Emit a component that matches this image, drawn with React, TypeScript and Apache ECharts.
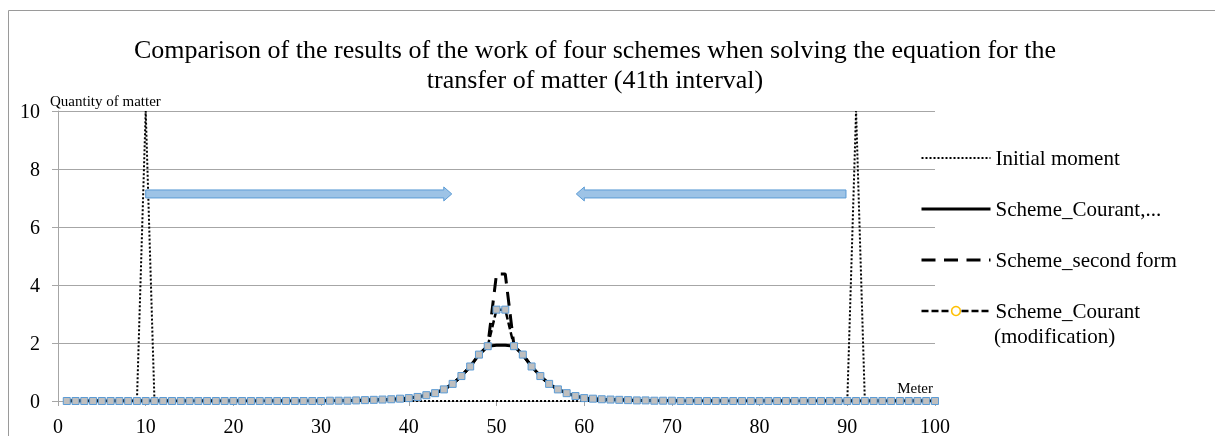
import React, { useEffect, useRef } from "react";
import * as echarts from "echarts";

const SERIF = "Liberation Serif";

const TITLE_LINES = [
  "Comparison of the results of the work of four schemes when solving the equation for the",
  "transfer of matter (41th interval)",
];
const X_NAME = "Meter";
const Y_NAME = "Quantity of matter";
const NAMES = [
  "Initial moment",
  "Scheme_Courant,...",
  "Scheme_second form",
  "Scheme_Courant (modification)",
];

// grid nodes (meters)
const X_NODES = Array.from({ length: 100 }, (_, i) => i + 1);

const INITIAL = [
  0, 0, 0, 0, 0, 0, 0, 0, 0, 10,
  0, 0, 0, 0, 0, 0, 0, 0, 0, 0,
  0, 0, 0, 0, 0, 0, 0, 0, 0, 0,
  0, 0, 0, 0, 0, 0, 0, 0, 0, 0,
  0, 0, 0, 0, 0, 0, 0, 0, 0, 0,
  0, 0, 0, 0, 0, 0, 0, 0, 0, 0,
  0, 0, 0, 0, 0, 0, 0, 0, 0, 0,
  0, 0, 0, 0, 0, 0, 0, 0, 0, 0,
  0, 0, 0, 0, 0, 0, 0, 0, 0, 0,
  10, 0, 0, 0, 0, 0, 0, 0, 0, 0,
];

const COURANT = [
  0, 0, 0, 0, 0, 0, 0, 0, 0, 0,
  0, 0, 0, 0, 0, 0, 0, 0, 0, 0,
  0, 0, 0, 0, 0, 0, 0, 0, 0, 0,
  0.01, 0.01, 0.01, 0.02, 0.03, 0.04, 0.05, 0.06, 0.08, 0.1,
  0.14, 0.2, 0.27, 0.4, 0.59, 0.86, 1.19, 1.6, 1.89, 1.92,
  1.92, 1.89, 1.6, 1.19, 0.86, 0.59, 0.4, 0.27, 0.17, 0.1,
  0.08, 0.06, 0.05, 0.04, 0.03, 0.02, 0.02, 0.01, 0.01, 0.01,
  0, 0, 0, 0, 0, 0, 0, 0, 0, 0,
  0, 0, 0, 0, 0, 0, 0, 0, 0, 0,
  0, 0, 0, 0, 0, 0, 0, 0, 0, 0,
];

const SECOND_FORM = [
  0, 0, 0, 0, 0, 0, 0, 0, 0, 0,
  0, 0, 0, 0, 0, 0, 0, 0, 0, 0,
  0, 0, 0, 0, 0, 0, 0, 0, 0, 0,
  0.01, 0.01, 0.01, 0.02, 0.03, 0.04, 0.05, 0.06, 0.08, 0.1,
  0.14, 0.2, 0.27, 0.4, 0.59, 0.86, 1.19, 1.6, 1.89, 4.38,
  4.38, 1.89, 1.6, 1.19, 0.86, 0.59, 0.4, 0.27, 0.17, 0.1,
  0.08, 0.06, 0.05, 0.04, 0.03, 0.02, 0.02, 0.01, 0.01, 0.01,
  0, 0, 0, 0, 0, 0, 0, 0, 0, 0,
  0, 0, 0, 0, 0, 0, 0, 0, 0, 0,
  0, 0, 0, 0, 0, 0, 0, 0, 0, 0,
];

const MODIFICATION = [
  0, 0, 0, 0, 0, 0, 0, 0, 0, 0,
  0, 0, 0, 0, 0, 0, 0, 0, 0, 0,
  0, 0, 0, 0, 0, 0, 0, 0, 0, 0,
  0.01, 0.01, 0.01, 0.02, 0.03, 0.04, 0.05, 0.06, 0.08, 0.1,
  0.14, 0.2, 0.27, 0.4, 0.59, 0.86, 1.19, 1.6, 1.89, 3.15,
  3.15, 1.89, 1.6, 1.19, 0.86, 0.59, 0.4, 0.27, 0.17, 0.1,
  0.08, 0.06, 0.05, 0.04, 0.03, 0.02, 0.02, 0.01, 0.01, 0.01,
  0, 0, 0, 0, 0, 0, 0, 0, 0, 0,
  0, 0, 0, 0, 0, 0, 0, 0, 0, 0,
  0, 0, 0, 0, 0, 0, 0, 0, 0, 0,
];

// block-arrow annotations in data units: [tailX, tipX, y]
const ARROWS: number[][] = [
  [10, 44.9, 7.14],
  [89.85, 59.1, 7.14],
];

const pairs = (vals: number[]) => vals.map((v, i) => [X_NODES[i], v]);

export default function App() {
  const ref = useRef<HTMLDivElement>(null);

  useEffect(() => {
    if (!ref.current) return;
    const chart = echarts.init(ref.current, null, { renderer: "svg" });
    const gray = "#a6a6a6";
    const LEGEND_LEFT = 920;
    const FIRST_CENTER = 158;
    const ITEM_STEP = 51;
    const LEGEND_FONT = 21;
    chart.setOption({
      animation: false,
      title: TITLE_LINES.map((t, i) => ({
        text: t,
        left: 595,
        top: 36 + i * 30,
        padding: 0,
        textAlign: "center",
        textStyle: { fontFamily: SERIF, fontSize: 26, fontWeight: "normal", color: "#000" },
      })),
      grid: { left: 58, top: 111, width: 877, height: 291, containLabel: false },
      legend: {
        orient: "vertical",
        left: LEGEND_LEFT,
        top: FIRST_CENTER - LEGEND_FONT / 2,
        padding: 0,
        itemGap: ITEM_STEP - LEGEND_FONT,
        itemWidth: 69,
        itemHeight: 11,
        selectedMode: false,
        textStyle: { fontFamily: SERIF, fontSize: LEGEND_FONT, color: "#000" },
        formatter: (name: string) => (name === NAMES[3] ? "Scheme_Courant" : name),
        data: [
          { name: NAMES[0], itemStyle: { opacity: 0 }, lineStyle: { width: 2 } },
          { name: NAMES[1], itemStyle: { opacity: 0 }, lineStyle: { width: 3 } },
          { name: NAMES[2], itemStyle: { opacity: 0 }, lineStyle: { width: 3 } },
          {
            name: NAMES[3],
            itemStyle: { color: "#fff", borderColor: "#ffc000", borderWidth: 1.5, opacity: 1 },
            lineStyle: { width: 2.5 },
          },
        ],
      },
      graphic: [
        {
          type: "rect",
          z: -1,
          shape: { x: 8.5, y: 10.5, width: 1250, height: 500 },
          style: { fill: "none", stroke: "#9a9a9a", lineWidth: 1 },
        },
        {
          type: "text",
          left: LEGEND_LEFT + 69 + 5,
          top: FIRST_CENTER + 3 * ITEM_STEP + 25 - LEGEND_FONT / 2,
          style: {
            text: "(modification)",
            fontFamily: SERIF,
            fontSize: LEGEND_FONT,
            fill: "#000",
          },
        },
      ],
      xAxis: {
        type: "value",
        min: 0,
        max: 100,
        interval: 10,
        name: X_NAME,
        nameLocation: "end",
        nameGap: 0,
        nameTextStyle: {
          fontFamily: SERIF,
          fontSize: 15,
          color: "#000",
          align: "right",
          verticalAlign: "bottom",
          padding: [0, 2, 6, 0],
        },
        axisLine: { show: true, onZero: false, lineStyle: { color: gray, width: 1 } },
        axisTick: { show: true, length: 5, lineStyle: { color: gray } },
        axisLabel: { fontFamily: SERIF, fontSize: 20, color: "#000", margin: 15 },
        splitLine: { show: false },
      },
      yAxis: {
        type: "value",
        min: 0,
        max: 10,
        interval: 2,
        name: Y_NAME,
        nameLocation: "end",
        nameGap: 3,
        nameTextStyle: {
          fontFamily: SERIF,
          fontSize: 15,
          color: "#000",
          align: "left",
          verticalAlign: "bottom",
          padding: [0, 0, 0, -8],
        },
        axisLine: { show: true, lineStyle: { color: gray, width: 1 } },
        axisTick: { show: true, length: 6, lineStyle: { color: gray } },
        axisLabel: { fontFamily: SERIF, fontSize: 20, color: "#000", margin: 18 },
        splitLine: { show: true, lineStyle: { color: gray, width: 1 } },
      },
      series: [
        {
          name: NAMES[0],
          type: "line",
          data: pairs(INITIAL),
          symbol: "none",
          itemStyle: { color: "#000" },
          lineStyle: { color: "#000", width: 2, type: [2, 2] },
        },
        {
          name: NAMES[1],
          type: "line",
          data: pairs(COURANT),
          symbol: "none",
          itemStyle: { color: "#000" },
          lineStyle: { color: "#000", width: 3, type: "solid" },
        },
        {
          name: NAMES[2],
          type: "line",
          data: pairs(SECOND_FORM),
          symbol: "none",
          itemStyle: { color: "#000" },
          lineStyle: { color: "#000", width: 3, type: [14, 8.5] },
        },
        {
          name: NAMES[3],
          type: "line",
          data: MODIFICATION.map((v, i) => ({ value: [X_NODES[i], v], symbol: "rect" })),
          symbol: "circle",
          symbolSize: 7,
          itemStyle: { color: "#bfbfbf", borderColor: "#5b9bd5", borderWidth: 1 },
          lineStyle: { color: "#000", width: 2.5, type: [7, 3] },
        },
        {
          name: "direction",
          type: "custom",
          coordinateSystem: "cartesian2d",
          silent: true,
          z: 10,
          data: ARROWS,
          encode: { x: [0, 1], y: 2 },
          renderItem: (params: any, api: any) => {
            const y = api.value(2);
            const t = api.coord([api.value(0), y]);
            const p = api.coord([api.value(1), y]);
            const dir = p[0] > t[0] ? 1 : -1;
            const hb = p[0] - dir * 8;
            const cy = t[1];
            return {
              type: "polygon",
              shape: {
                points: [
                  [t[0], cy - 4],
                  [hb, cy - 4],
                  [hb, cy - 7],
                  [p[0], cy],
                  [hb, cy + 7],
                  [hb, cy + 4],
                  [t[0], cy + 4],
                ],
              },
              style: { fill: "#9dc3e6", stroke: "#5b9bd5", lineWidth: 1 },
            };
          },
        },
      ],
    });

    return () => chart.dispose();
  }, []);

  return <div ref={ref} style={{ position: "fixed", left: 0, top: 0, width: 1215, height: 436 }} />;
}
